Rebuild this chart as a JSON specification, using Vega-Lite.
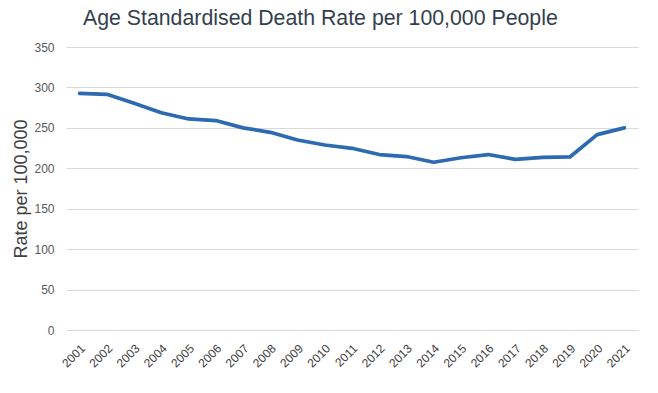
{
  "$schema": "https://vega.github.io/schema/vega-lite/v6.json",
  "autosize": "none",
  "width": 572,
  "height": 283,
  "padding": {"left": 66, "top": 47, "right": 20, "bottom": 63},
  "background": "white",
  "title": {
    "text": "Age Standardised Death Rate per 100,000 People",
    "anchor": "start",
    "frame": "group",
    "dx": 17,
    "offset": 12,
    "font": "Liberation Sans",
    "fontSize": 21.3,
    "fontWeight": "normal",
    "color": "#333f4f"
  },
  "data": {
    "values": [
      {"year": "2001", "rate": 292.7},
      {"year": "2002", "rate": 291.5},
      {"year": "2003", "rate": 280.5},
      {"year": "2004", "rate": 268.7},
      {"year": "2005", "rate": 261},
      {"year": "2006", "rate": 259},
      {"year": "2007", "rate": 250},
      {"year": "2008", "rate": 244.5},
      {"year": "2009", "rate": 235},
      {"year": "2010", "rate": 228.8},
      {"year": "2011", "rate": 224.7},
      {"year": "2012", "rate": 217},
      {"year": "2013", "rate": 214.5},
      {"year": "2014", "rate": 207.5},
      {"year": "2015", "rate": 213},
      {"year": "2016", "rate": 217},
      {"year": "2017", "rate": 211},
      {"year": "2018", "rate": 213.5},
      {"year": "2019", "rate": 214},
      {"year": "2020", "rate": 241.6},
      {"year": "2021", "rate": 250}
    ]
  },
  "mark": {"type": "line", "color": "#2e6ab1", "strokeWidth": 3.7, "strokeCap": "round", "strokeJoin": "round"},
  "encoding": {
    "x": {
      "field": "year",
      "type": "ordinal",
      "scale": {"type": "point", "padding": 0.5},
      "axis": {
        "title": null,
        "labelAngle": -45,
        "labelAlign": "right",
        "labelBaseline": "middle",
        "labelPadding": 16,
        "labelOffset": 3,
        "labelFont": "Liberation Sans",
        "labelFontSize": 12,
        "labelColor": "#404040",
        "domain": false,
        "ticks": false,
        "grid": false
      }
    },
    "y": {
      "field": "rate",
      "type": "quantitative",
      "scale": {"domain": [0, 350], "nice": false},
      "axis": {
        "title": "Rate per 100,000",
        "titleFont": "Liberation Sans",
        "titleFontSize": 18,
        "titleFontWeight": "normal",
        "titleColor": "#404040",
        "titlePadding": 3,
        "values": [0, 50, 100, 150, 200, 250, 300, 350],
        "labelFont": "Liberation Sans",
        "labelFontSize": 12,
        "labelColor": "#595959",
        "labelPadding": 12,
        "domain": false,
        "ticks": false,
        "grid": true,
        "gridColor": "#d9d9d9",
        "gridWidth": 1
      }
    }
  },
  "config": {"view": {"stroke": null}}
}
